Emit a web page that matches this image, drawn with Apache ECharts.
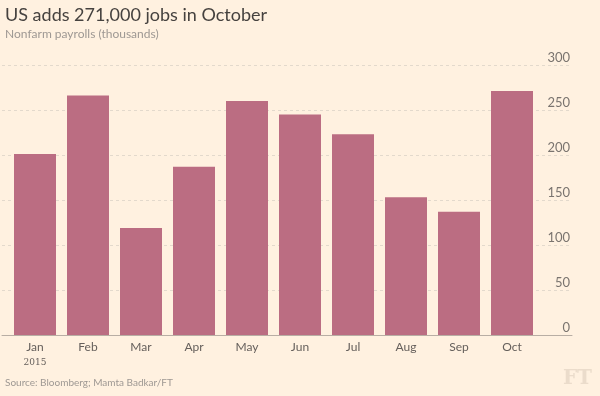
<!DOCTYPE html>
<html>
<head>
<meta charset="utf-8">
<script src="https://cdn.jsdelivr.net/npm/echarts@6/dist/echarts.min.js"></script>
<style>
  html, body { margin: 0; padding: 0; background: #fff1e0; }
  #chart { width: 600px; height: 396px; }
</style>
</head>
<body>
<div id="chart"></div>
<script>
// data
var months = ["Jan", "Feb", "Mar", "Apr", "May", "Jun", "Jul", "Aug", "Sep", "Oct"];
var payrolls = [201, 266, 119, 187, 260, 245, 223, 153, 137, 271];
var yearLabel = "2015";
var yTicks = [0, 50, 100, 150, 200, 250, 300];

var font = "Lato, 'Open Sans', sans-serif";

var chart = echarts.init(document.getElementById("chart"));
chart.setOption({
  backgroundColor: "#fff1e0",
  animation: false,
  title: [
    {
      text: "US adds 271,000 jobs in October",
      left: 0, top: 1,
      textStyle: { fontFamily: font, fontSize: 18, fontWeight: "normal", color: "#46423f" },
      subtext: "Nonfarm payrolls (thousands)",
      subtextStyle: { fontFamily: font, fontSize: 12, color: "#9e9893" },
      itemGap: 4
    },
    {
      text: "Source: Bloomberg; Mamta Badkar/FT",
      left: 0, bottom: 3,
      textStyle: { fontFamily: font, fontSize: 10, fontWeight: "normal", color: "#9e9893" }
    },
    {
      text: "FT",
      right: 3, bottom: 2,
      textStyle: { fontFamily: "'DejaVu Serif', serif", fontSize: 20, fontWeight: "bold", color: "#ebdccb" }
    }
  ],
  grid: [
    // bars
    { left: 8.5, right: 61.5, top: 65, bottom: 61 },
    // gridlines, baseline and y labels
    { left: 2, right: 28, top: 65, bottom: 61 }
  ],
  xAxis: [
    {
      type: "category",
      gridIndex: 0,
      data: months,
      axisLine: { show: false },
      axisTick: { show: false },
      axisLabel: {
        interval: 0,
        margin: 5,
        fontFamily: font,
        fontSize: 12,
        color: "#66605c",
        formatter: function (v, i) {
          return i === 0 ? "{m|" + v + "}\n{y|" + yearLabel + "}" : "{m|" + v + "}";
        },
        rich: {
          m: { fontFamily: font, fontSize: 12, color: "#66605c", lineHeight: 15 },
          y: { fontFamily: "'DejaVu Serif', serif", fontSize: 9, color: "#66605c", lineHeight: 15 }
        }
      }
    },
    {
      type: "value",
      gridIndex: 1,
      min: 0, max: 1,
      axisLine: { show: true, lineStyle: { color: "#b8aea4", width: 1 } },
      axisTick: { show: false },
      axisLabel: { show: false },
      splitLine: { show: false }
    }
  ],
  yAxis: [
    {
      type: "value",
      gridIndex: 0,
      min: 0, max: 300, interval: 50,
      show: false,
      splitLine: { show: false }
    },
    {
      type: "value",
      gridIndex: 1,
      position: "right",
      min: yTicks[0], max: yTicks[yTicks.length - 1], interval: 50,
      axisLine: { show: false },
      axisTick: { show: false },
      splitLine: { show: true, lineStyle: { color: "#e3d9cc", type: [3, 3], width: 1 } },
      axisLabel: {
        inside: true,
        margin: 2,
        verticalAlign: "bottom",
        padding: [0, 0, 1, 0],
        fontFamily: font,
        fontSize: 13,
        color: "#7a746f"
      }
    }
  ],
  series: [
    {
      type: "bar",
      xAxisIndex: 0,
      yAxisIndex: 0,
      data: payrolls,
      barWidth: 42,
      itemStyle: { color: "#bb6d82" }
    }
  ]
});
</script>
</body>
</html>
